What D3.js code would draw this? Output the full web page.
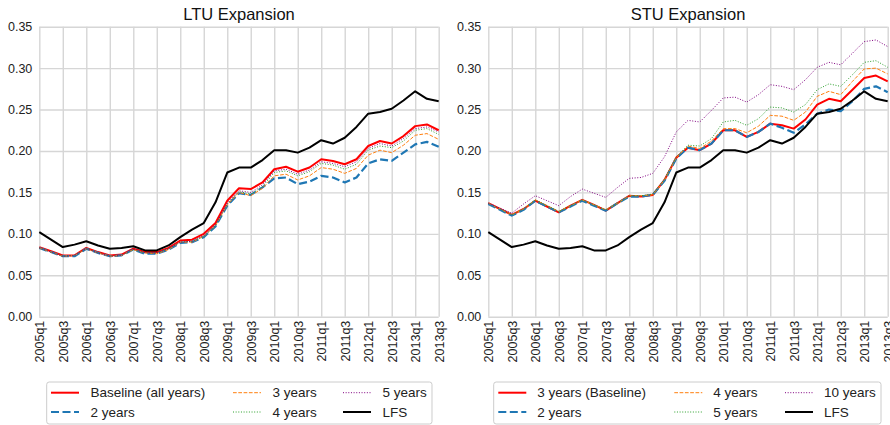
<!DOCTYPE html>
<html>
<head>
<meta charset="utf-8">
<script src="https://cdn.jsdelivr.net/npm/d3@7"></script>
<style>
  body { margin: 0; background: #fff; }
  svg { font-family: "Liberation Sans", Arial, sans-serif; }
  .grid line { stroke: #d6d6d6; stroke-width: 1.4; }
  .grid path { display: none; }
  .tick text { fill: #222; font-size: 12.5px; }
</style>
</head>
<body>
<div id="chart"></div>
<script>
// quarters on the x axis
const quarters = [
  '2005q1','2005q2','2005q3','2005q4','2006q1','2006q2','2006q3','2006q4',
  '2007q1','2007q2','2007q3','2007q4','2008q1','2008q2','2008q3','2008q4',
  '2009q1','2009q2','2009q3','2009q4','2010q1','2010q2','2010q3','2010q4',
  '2011q1','2011q2','2011q3','2011q4','2012q1','2012q2','2012q3','2012q4',
  '2013q1','2013q2','2013q3'
];
const yTicks = [0, 0.05, 0.10, 0.15, 0.20, 0.25, 0.30, 0.35];

// LFS benchmark (same in both panels)
const lfs = [0.102,0.093,0.084,0.087,0.091,0.086,0.082,0.083,0.085,0.080,0.080,0.086,0.096,0.105,0.113,0.138,
  0.174,0.180,0.180,0.189,0.201,0.201,0.198,0.204,0.213,0.209,0.216,0.229,0.245,0.247,0.251,0.261,0.272,0.263,0.260];

// LTU expansion
const ltuBaseline = [0.084,0.079,0.074,0.074,0.083,0.078,0.074,0.075,0.082,0.078,0.078,0.083,0.092,0.093,0.100,0.113,
  0.140,0.155,0.154,0.162,0.178,0.181,0.175,0.180,0.190,0.188,0.184,0.190,0.206,0.212,0.209,0.218,0.230,0.232,0.225];
const ltu2y = [0.083,0.078,0.073,0.073,0.082,0.077,0.073,0.074,0.081,0.076,0.076,0.081,0.089,0.090,0.096,0.109,
  0.134,0.149,0.147,0.156,0.167,0.168,0.160,0.163,0.170,0.168,0.162,0.168,0.185,0.190,0.188,0.198,0.208,0.211,0.205];
const ltu3y = [0.083,0.078,0.073,0.074,0.082,0.077,0.073,0.074,0.081,0.077,0.076,0.081,0.090,0.090,0.097,0.110,
  0.135,0.150,0.146,0.155,0.170,0.172,0.165,0.170,0.180,0.178,0.173,0.179,0.195,0.201,0.198,0.207,0.219,0.221,0.214];
const ltu4y = [0.083,0.078,0.073,0.074,0.082,0.077,0.073,0.074,0.081,0.077,0.077,0.082,0.090,0.091,0.097,0.110,
  0.136,0.151,0.148,0.157,0.174,0.176,0.170,0.175,0.185,0.183,0.178,0.184,0.201,0.206,0.204,0.212,0.225,0.227,0.220];
const ltu5y = [0.083,0.078,0.073,0.074,0.082,0.077,0.073,0.074,0.082,0.077,0.077,0.082,0.090,0.091,0.098,0.111,
  0.137,0.152,0.150,0.159,0.176,0.178,0.172,0.177,0.187,0.185,0.181,0.187,0.203,0.209,0.206,0.215,0.227,0.229,0.223];

// STU expansion
const stuBaseline = [0.137,0.130,0.123,0.130,0.140,0.133,0.126,0.134,0.141,0.135,0.128,0.137,0.146,0.145,0.147,0.165,
  0.192,0.204,0.201,0.209,0.225,0.225,0.217,0.223,0.233,0.231,0.227,0.238,0.256,0.263,0.260,0.274,0.288,0.291,0.284];
const stu2y = [0.136,0.129,0.122,0.129,0.140,0.133,0.126,0.133,0.140,0.134,0.128,0.137,0.145,0.145,0.147,0.164,
  0.191,0.204,0.201,0.209,0.225,0.225,0.217,0.223,0.233,0.228,0.222,0.232,0.245,0.250,0.248,0.260,0.275,0.278,0.271];
const stu4y = [0.137,0.130,0.123,0.130,0.141,0.134,0.127,0.134,0.141,0.135,0.129,0.137,0.146,0.146,0.147,0.165,
  0.192,0.206,0.203,0.212,0.227,0.227,0.222,0.230,0.243,0.242,0.237,0.247,0.266,0.272,0.268,0.284,0.299,0.300,0.293];
const stu5y = [0.137,0.130,0.123,0.130,0.141,0.134,0.127,0.134,0.141,0.135,0.129,0.137,0.146,0.146,0.148,0.166,
  0.193,0.207,0.206,0.215,0.235,0.237,0.231,0.239,0.253,0.252,0.247,0.256,0.274,0.281,0.278,0.292,0.307,0.309,0.301];
const stu10y = [0.137,0.131,0.125,0.136,0.146,0.140,0.134,0.145,0.154,0.149,0.144,0.156,0.167,0.168,0.173,0.193,
  0.223,0.237,0.235,0.249,0.264,0.265,0.259,0.268,0.280,0.278,0.274,0.286,0.301,0.307,0.304,0.318,0.332,0.334,0.326];

// line styles (matplotlib-ish)
const styles = {
  red:    { color: '#ff0000', width: 2,   dash: null },
  blue:   { color: '#1f77b4', width: 2.2, dash: '8,3.5' },
  orange: { color: '#ff7f0e', width: 1,   dash: '3.7,1.6' },
  green:  { color: '#2ca02c', width: 1,   dash: '1,1.65' },
  purple: { color: '#800080', width: 1,   dash: '1,1.65' },
  black:  { color: '#000000', width: 2,   dash: null }
};

class Chart {

  constructor(opts) {
    this.svg = opts.svg;
    this.title = opts.title;
    this.series = opts.series;
    this.left = opts.left;
    this.legendPos = opts.legendPos;
    this.draw();
  }

  draw() {
    this.innerWidth = 399.4;
    this.innerHeight = 290;
    this.top = 26.7;

    this.plot = this.svg.append('g')
      .attr('transform', `translate(${this.left},${this.top})`);

    this.createScales();
    this.addAxes();
    this.addLines();
    this.addLegend();
  }

  createScales() {
    this.xScale = d3.scalePoint()
      .domain(quarters)
      .range([0, this.innerWidth]);

    this.yScale = d3.scaleLinear()
      .domain([0, 0.35])
      .range([this.innerHeight, 0]);
  }

  addAxes() {
    const xAxis = d3.axisBottom(this.xScale)
      .tickValues(quarters.filter((q, i) => i % 2 === 0))
      .tickSize(-this.innerHeight)
      .tickPadding(0);

    const yAxis = d3.axisLeft(this.yScale)
      .tickValues(yTicks)
      .tickFormat(d3.format('.2f'))
      .tickSize(-this.innerWidth)
      .tickPadding(7);

    this.plot.append('g')
      .attr('class', 'grid y')
      .call(yAxis);

    const gx = this.plot.append('g')
      .attr('class', 'grid x')
      .attr('transform', `translate(0,${this.innerHeight})`)
      .call(xAxis);

    // rotated quarter labels
    gx.selectAll('.tick text')
      .attr('transform', 'rotate(-90)')
      .attr('x', -4)
      .attr('y', 0)
      .attr('dy', '0.35em')
      .style('text-anchor', 'end');

    this.plot.append('text')
      .attr('x', this.innerWidth / 2)
      .attr('y', -7)
      .attr('text-anchor', 'middle')
      .style('font-size', '16.5px')
      .style('fill', '#111')
      .text(this.title);
  }

  addLines() {
    const line = d3.line()
      .x((d, i) => this.xScale(quarters[i]))
      .y(d => this.yScale(d));

    this.plot.selectAll('.series')
      .data(this.series)
      .enter().append('path')
        .attr('class', 'series')
        .attr('fill', 'none')
        .attr('stroke', d => d.style.color)
        .attr('stroke-width', d => d.style.width)
        .attr('stroke-dasharray', d => d.style.dash)
        .attr('stroke-linejoin', 'round')
        .attr('d', d => line(d.values));
  }

  addLegend() {
    const p = this.legendPos;
    const g = this.svg.append('g')
      .attr('transform', `translate(${p.x},382)`);

    g.append('rect')
      .attr('width', p.w)
      .attr('height', 42)
      .attr('rx', 2.5)
      .attr('fill', '#fff')
      .attr('stroke', '#cccccc')
      .attr('stroke-width', 1);

    // matplotlib fills columns first: 2 rows x 3 cols
    const items = g.selectAll('.item')
      .data(this.series)
      .enter().append('g')
        .attr('class', 'item')
        .attr('transform', (d, i) =>
          `translate(${p.cols[Math.floor(i / 2)]},${i % 2 === 0 ? 10.7 : 30})`);

    items.append('line')
      .attr('x1', 0)
      .attr('x2', 28)
      .attr('stroke', d => d.style.color)
      .attr('stroke-width', d => d.style.width)
      .attr('stroke-dasharray', d => d.style.dash);

    items.append('text')
      .attr('x', p.textGap)
      .attr('dy', '0.35em')
      .style('font-size', '13.5px')
      .style('fill', '#222')
      .text(d => d.label);
  }
}

const svg = d3.select('#chart').append('svg')
  .attr('width', 890)
  .attr('height', 425);

new Chart({
  svg: svg,
  title: 'LTU Expansion',
  left: 39.3,
  legendPos: { x: 46.7, w: 385.3, cols: [4.3, 186.3, 296.3], textGap: 39.5 },
  series: [
    { label: 'Baseline (all years)', values: ltuBaseline, style: styles.red },
    { label: '2 years', values: ltu2y, style: styles.blue },
    { label: '3 years', values: ltu3y, style: styles.orange },
    { label: '4 years', values: ltu4y, style: styles.green },
    { label: '5 years', values: ltu5y, style: styles.purple },
    { label: 'LFS', values: lfs, style: styles.black }
  ]
});

new Chart({
  svg: svg,
  title: 'STU Expansion',
  left: 488.3,
  legendPos: { x: 493.7, w: 387.3, cols: [4.6, 180.6, 291.3], textGap: 39 },
  series: [
    { label: '3 years (Baseline)', values: stuBaseline, style: styles.red },
    { label: '2 years', values: stu2y, style: styles.blue },
    { label: '4 years', values: stu4y, style: styles.orange },
    { label: '5 years', values: stu5y, style: styles.green },
    { label: '10 years', values: stu10y, style: styles.purple },
    { label: 'LFS', values: lfs, style: styles.black }
  ]
});
</script>
</body>
</html>
